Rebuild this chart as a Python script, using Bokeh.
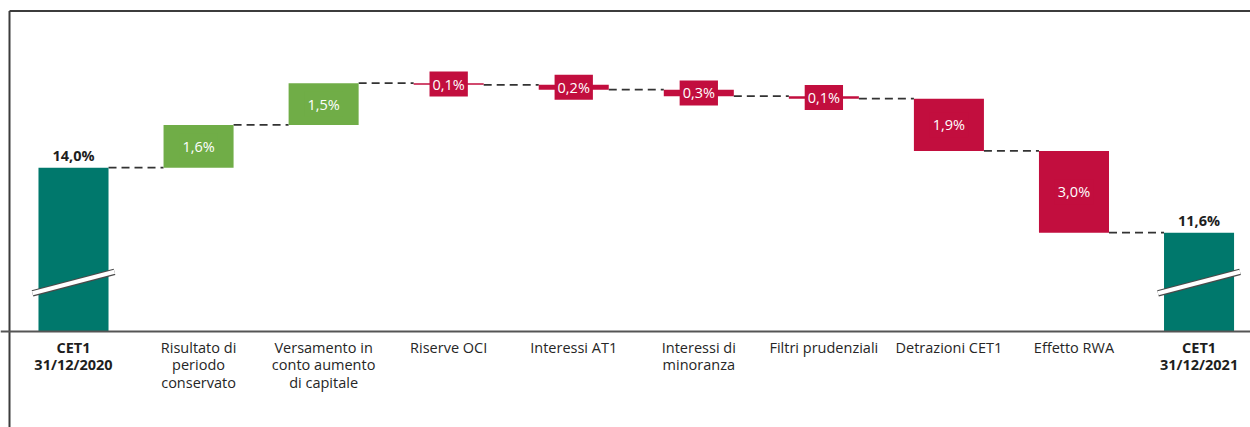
from bokeh.plotting import figure
from bokeh.models import LinearAxis, FixedTicker, Range1d, ColumnDataSource
from bokeh.core.properties import value
from bokeh.embed import file_html
from bokeh.resources import INLINE

# ---------------- data ----------------
categories = [
    "CET1\n31/12/2020",
    "Risultato di\nperiodo\nconservato",
    "Versamento in\nconto aumento\ndi capitale",
    "Riserve OCI",
    "Interessi AT1",
    "Interessi di\nminoranza",
    "Filtri prudenziali",
    "Detrazioni CET1",
    "Effetto RWA",
    "CET1\n31/12/2021",
]
start_value = 14.0
end_value = 11.6
deltas = [1.58, 1.54, -0.06, -0.18, -0.24, -0.09, -1.93, -3.02]
delta_labels = ["1,6%", "1,5%", "0,1%", "0,2%", "0,3%", "0,1%", "1,9%", "3,0%"]
total_labels = ["14,0%", "11,6%"]

# ---------------- style / layout ----------------
TEAL = "#00786C"
GREEN = "#70AD47"
RED = "#C20E3E"
FONT = "Open Sans"
W, H = 1250, 427
PX_PER_X = 125.06
PX_PER_Y = 27.08
BASE = 7.97            # value at the (broken) baseline
BAR_W = 0.56
x_start = -73 / PX_PER_X
x_end = x_start + W / PX_PER_X
y_end = BASE + 330.5 / PX_PER_Y
y_start = BASE - 96.5 / PX_PER_Y

p = figure(width=W, height=H, x_range=Range1d(x_start, x_end), y_range=Range1d(y_start, y_end),
           output_backend="svg", toolbar_location=None, x_axis_location=None, y_axis_location=None,
           min_border=0, min_border_left=0, min_border_right=0, min_border_top=0, min_border_bottom=0,
           outline_line_color=None, background_fill_color="white", border_fill_color="white")
p.grid.visible = False

# outer frame lines (left and top)
xl = x_start + 9 / PX_PER_X
yt = y_end - 10.5 / PX_PER_Y
p.segment(x0=[xl, xl], y0=[yt, yt], x1=[xl, x_end], y1=[y_start, yt], line_color="#3c3c3c", line_width=2)

# waterfall levels
levels = [start_value]
for d in deltas:
    levels.append(levels[-1] + d)

# connectors
n = len(categories)
conn_x0 = [i + BAR_W / 2 for i in range(n - 1)]
conn_x1 = [i + 1 - BAR_W / 2 for i in range(n - 1)]
conn_y = levels[:]
p.segment(x0=conn_x0, y0=conn_y, x1=conn_x1, y1=conn_y, line_color="#333333", line_width=1.8, line_dash="8 5")

# total bars
tot_x = [0, n - 1]
tot_v = [start_value, end_value]
p.vbar(x=tot_x, top=tot_v, bottom=BASE, width=BAR_W, fill_color=TEAL, line_color=None)

# delta bars
dx = list(range(1, n - 1))
d_bottom = [min(levels[i], levels[i + 1]) for i in range(len(deltas))]
d_top = [max(levels[i], levels[i + 1]) for i in range(len(deltas))]
d_color = [GREEN if d > 0 else RED for d in deltas]
d_mid = [(a + b) / 2 for a, b in zip(d_bottom, d_top)]
src = ColumnDataSource(dict(x=dx, bottom=d_bottom, top=d_top, color=d_color, mid=d_mid, label=delta_labels))
p.vbar(x="x", top="top", bottom="bottom", width=BAR_W, fill_color="color", line_color=None, source=src)

# axis break marks on total bars
BREAK_LEVEL = 9.76
BREAK_HALF = 0.328
BREAK_RISE = 0.397
bx0 = [x - BREAK_HALF for x in tot_x]
bx1 = [x + BREAK_HALF for x in tot_x]
by0 = [BREAK_LEVEL - BREAK_RISE] * 2
by1 = [BREAK_LEVEL + BREAK_RISE] * 2
p.segment(x0=bx0, y0=by0, x1=bx1, y1=by1, line_color="#4a4a4a", line_width=6.5, line_cap="butt")
p.segment(x0=bx0, y0=by0, x1=bx1, y1=by1, line_color="white", line_width=4.2, line_cap="butt")

# delta value labels (boxed)
p.text(x="x", y="mid", text="label", source=src, text_align="center", text_baseline="middle",
       text_color="white", text_font=value(FONT), text_font_size="14.5px",
       background_fill_color="color", padding=3)

# total value labels
p.text(x=tot_x, y=tot_v, text=total_labels, text_align="center", text_baseline="bottom", y_offset=-3,
       text_color="#1e1e1e", text_font=value(FONT), text_font_size="14.5px", text_font_style="bold")

# category axes (broken baseline)
normal_ticks = list(range(1, n - 1))
common = dict(fixed_location=BASE, major_tick_line_color=None, minor_tick_line_color=None,
              major_tick_in=0, major_tick_out=0,
              major_label_text_font=FONT, major_label_text_font_size="14.5px",
              major_label_text_line_height=0.92, major_label_standoff=7)
ax = LinearAxis(ticker=FixedTicker(ticks=normal_ticks),
                major_label_overrides={i: categories[i] for i in normal_ticks},
                axis_line_color="#555555", axis_line_width=2,
                major_label_text_color="#262626", **common)
p.add_layout(ax, "below")
bold_ticks = [0, n - 1]
axb = LinearAxis(ticker=FixedTicker(ticks=bold_ticks),
                 major_label_overrides={i: categories[i] for i in bold_ticks},
                 axis_line_color=None, major_label_text_font_style="bold",
                 major_label_text_color="#1e1e1e", **common)
p.add_layout(axb, "below")

open("out.html", "w").write(file_html(p, INLINE))
